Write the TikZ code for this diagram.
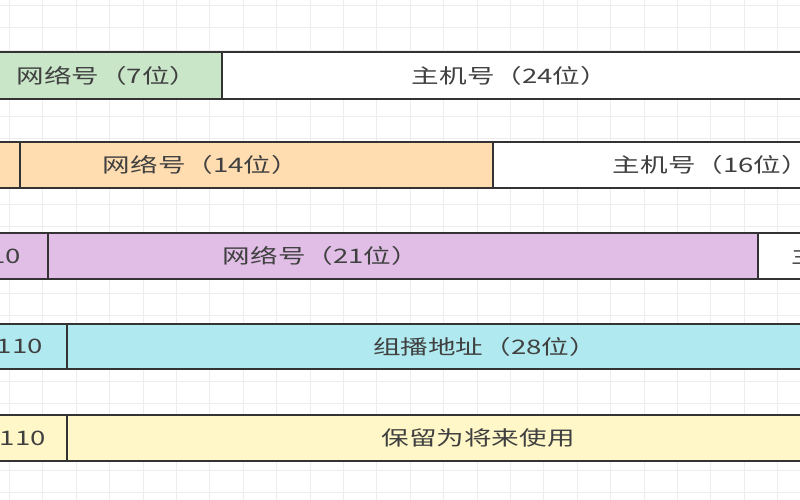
\documentclass[tikz,border=0pt]{standalone}
\usepackage{graphicx}
\usepackage{fontspec}
\newfontfamily\cjk{Noto Sans CJK SC}
\definecolor{edge}{HTML}{333333}
\definecolor{txt}{HTML}{404040}
\definecolor{gridc}{HTML}{EDEDED}
\definecolor{cA}{HTML}{C9E6C9}
\definecolor{cB}{HTML}{FFDDB0}
\definecolor{cC}{HTML}{E0BEE6}
\definecolor{cD}{HTML}{B0EAF0}
\definecolor{cE}{HTML}{FFF7C8}
\newcommand\T[1]{\scalebox{1.38}[1]{#1}}
\tikzset{
  cell/.style={draw=edge, line width=2.5pt},
  lbl/.style={text=txt, font=\cjk\fontsize{20}{24}\selectfont, inner sep=0pt},
}
\begin{document}
\begin{tikzpicture}[x=1pt,y=-1pt]
\useasboundingbox (0,0) rectangle (800,500);
\clip (0,0) rectangle (800,500);
\fill[white] (0,0) rectangle (800,500);
% grid
\foreach \i in {0,...,24} {\draw[gridc, line width=1pt] ({9.4+33.4*\i},0) -- ({9.4+33.4*\i},500);}
\foreach \j in {0,...,22} {\draw[gridc, line width=1pt] (0,{5.9+22.1*\j}) -- (800,{5.9+22.1*\j});}
% class A
\draw[cell, fill=cA] (-60,52) rectangle (-14,99);
\draw[cell, fill=cA] (-14,52) rectangle (222,99);
\draw[cell, fill=white] (222,52) rectangle (1030,99);
\node[lbl] (a1) at (107,75.5) {\T{网络号（7位）}};
\node[lbl] (a2) at (510,75.5) {\T{主机号（24位）}};
% class B
\draw[cell, fill=cB] (-60,142) rectangle (20,188);
\draw[cell, fill=cB] (20,142) rectangle (493,188);
\draw[cell, fill=white] (493,142) rectangle (1030,188);
\node[lbl] (b1) at (201,165) {\T{网络号（14位）}};
\node[lbl] (b2) at (711,165) {\T{主机号（16位）}};
% class C
\draw[cell, fill=cC] (-70,233) rectangle (48,279);
\draw[cell, fill=cC] (48,233) rectangle (758,279);
\draw[cell, fill=white] (758,233) rectangle (1030,279);
\node[lbl, anchor=east] (c0) at (21,256) {\T{110}};
\node[lbl] (c1) at (321,256) {\T{网络号（21位）}};
\node[lbl, anchor=west] (c2) at (791,256) {\T{主机号（8位）}};
% class D
\draw[cell, fill=cD] (-90,324) rectangle (67,369);
\draw[cell, fill=cD] (67,324) rectangle (1030,369);
\node[lbl, anchor=east] (d0) at (43,346.5) {\T{1110}};
\node[lbl] (d1) at (485,346.5) {\T{组播地址（28位）}};
% class E
\draw[cell, fill=cE] (-110,415) rectangle (67,461);
\draw[cell, fill=cE] (67,415) rectangle (1030,461);
\node[lbl, anchor=east] (e0) at (46,438) {\T{11110}};
\node[lbl] (e1) at (478,438) {\T{保留为将来使用}};
\end{tikzpicture}
\end{document}
